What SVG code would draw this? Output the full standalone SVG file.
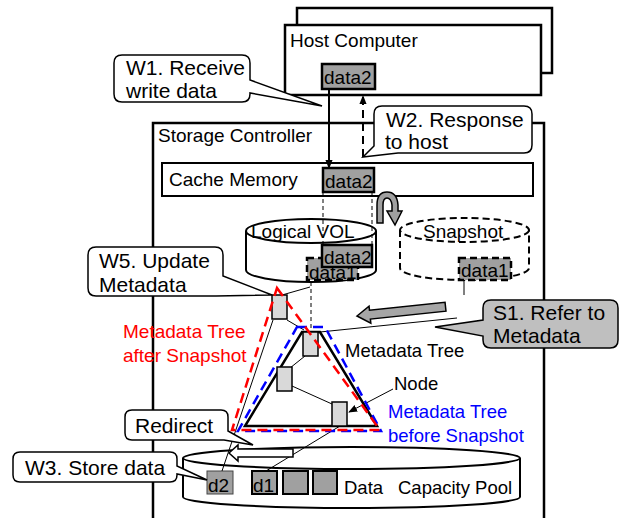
<svg xmlns="http://www.w3.org/2000/svg" width="619" height="518" viewBox="0 0 619 518">
<defs>
<style>
text{font-family:"Liberation Sans",Arial,sans-serif;fill:#000}
.t19{font-size:19px}
.t18{font-size:18.5px}
.t21{font-size:21px}
.box{fill:#fff;stroke:#000;stroke-width:2.5}
.call{fill:#fff;stroke:#000;stroke-width:1.5}
.dat{fill:#a0a0a0;stroke:#000;stroke-width:2.5}
.datd{fill:#a0a0a0;stroke:#000;stroke-width:2.5;stroke-dasharray:7 4}
.nd{fill:#d9d9d9;stroke:#000;stroke-width:1.5}
.thin{fill:none;stroke:#000;stroke-width:1}
.thind{fill:none;stroke:#000;stroke-width:1;stroke-dasharray:4 3}
.cyl{fill:#fff;stroke:#000;stroke-width:2}
.cyld{fill:#fff;stroke:#000;stroke-width:2;stroke-dasharray:7 4}
</style>
<clipPath id="d1clip"><rect x="307" y="267.5" width="51" height="14"/></clipPath>
<marker id="ah2" viewBox="0 0 10 10" refX="9" refY="5" markerWidth="9" markerHeight="9" orient="auto" markerUnits="userSpaceOnUse">
<path d="M0,1 L10,5 L0,9 z" fill="#000"/>
</marker>
</defs>

<g id="host">
<rect x="297" y="8" width="255" height="65" class="box"/>
<rect x="285" y="25" width="256" height="70" class="box"/>
<text x="290" y="47" class="t19">Host Computer</text>
<rect x="322" y="64" width="53" height="25" class="dat"/>
<text x="324" y="84" class="t19">data2</text>
</g>

<g id="storage-controller">
<rect x="153" y="123" width="391" height="410" fill="none" stroke="#000" stroke-width="2.5"/>
<text x="158" y="142" class="t19">Storage Controller</text>
</g>

<g id="cache-memory">
<rect x="162" y="163" width="371" height="33" fill="#fff" stroke="#000" stroke-width="2"/>
<text x="169" y="186" class="t19">Cache Memory</text>
<rect x="323" y="168" width="51" height="24" class="dat"/>
<text x="325" y="188" class="t19">data2</text>
</g>

<g id="logical-vol">
<path d="M246,231 V270 A65,12 0 0 0 376,270 V231" class="cyl"/>
<ellipse cx="311" cy="231" rx="65" ry="12" class="cyl"/>
<text x="251" y="238" class="t19">Logical VOL</text>
<rect x="307" y="258" width="51" height="22" class="datd"/>
<text x="309" y="279" class="t19" clip-path="url(#d1clip)">data1</text>
<rect x="322" y="245" width="50" height="22" class="dat"/>
<text x="324" y="264" class="t19">data2</text>
</g>

<g id="snapshot">
<path d="M400,230 V268 A64.5,12 0 0 0 529,268 V230" class="cyld"/>
<ellipse cx="464.5" cy="230" rx="64.5" ry="12" class="cyld"/>
<text x="423" y="238" class="t19">Snapshot</text>
<rect x="459" y="258" width="52" height="22" class="datd"/>
<text x="461" y="277" class="t19">data1</text>
</g>

<g id="capacity-pool">
<path d="M183,458 V497 A168.5,11 0 0 0 520,497 V458" class="cyl"/>
<ellipse cx="351.5" cy="458" rx="168.5" ry="11" class="cyl"/>
<rect x="207" y="471" width="26" height="23" fill="#a0a0a0" stroke="#444" stroke-width="1"/>
<text x="208" y="492" class="t19">d2</text>
<rect x="252" y="471" width="25" height="23" fill="#a0a0a0" stroke="#000" stroke-width="2"/>
<text x="253" y="492" class="t19">d1</text>
<rect x="283" y="471" width="25" height="23" fill="#a0a0a0" stroke="#000" stroke-width="2"/>
<rect x="313" y="471" width="24" height="23" fill="#a0a0a0" stroke="#000" stroke-width="2"/>
<text x="344" y="494" class="t18">Data</text>
<text x="398" y="494" class="t18">Capacity Pool</text>
</g>

<g id="connectors">
<line x1="329" y1="89" x2="329" y2="168" stroke="#000" stroke-width="2" marker-end="url(#ah2)"/>
<line x1="363" y1="157" x2="363" y2="96" stroke="#000" stroke-width="2" stroke-dasharray="8 5" marker-end="url(#ah2)"/>
<line x1="323" y1="192" x2="323" y2="245" class="thind"/>
<line x1="372" y1="192" x2="372" y2="245" class="thind"/>
<line x1="311" y1="282" x2="311" y2="330" class="thind"/>
<line x1="464" y1="280" x2="464" y2="295" class="thin"/>
<line x1="282" y1="295" x2="310" y2="287" class="thin"/>
<line x1="287" y1="320" x2="304" y2="330" class="thin"/>
<line x1="457" y1="318" x2="320" y2="332" class="thin"/>
<line x1="305" y1="356" x2="290" y2="368" class="thin"/>
<line x1="292" y1="386" x2="332" y2="404" class="thin"/>
<line x1="340" y1="426" x2="266" y2="471" class="thin"/>
<line x1="273" y1="320" x2="222" y2="471" class="thin"/>
<line x1="393" y1="389" x2="349" y2="412" stroke="#000" stroke-width="1" marker-end="url(#ah2)"/>
<path d="M377,223 L377,205 Q377,192 387,192 Q397,192 398,205 L398,211 L402,211 L395,225 L387,211 L392,211 L392,205 Q391,198 387,198 Q383,198 383,205 L383,223 Z" fill="#a0a0a0" stroke="#000" stroke-width="1.5"/>
<path d="M0,0 L13,-8.5 L13,-4.5 L89,-4.5 L89,4.5 L13,4.5 L13,8.5 Z" transform="translate(357,316) rotate(-6)" fill="#a6a6a6" stroke="#000" stroke-width="1.5"/>
<path d="M229,453 L238,445 L238,449 L293,449 L293,457 L238,457 L238,461 Z" fill="#fff" stroke="#000" stroke-width="1.5"/>
</g>

<g id="metadata-tree">
<polygon points="302,332 320,332 377,426 245,426" fill="none" stroke="#000" stroke-width="2.5"/>
<text x="345" y="357" class="t18">Metadata Tree</text>
</g>

<g id="nodes">
<rect x="272" y="295" width="15" height="24" class="nd"/>
<rect x="303" y="332" width="15" height="24" class="nd"/>
<rect x="277" y="367" width="15" height="24" class="nd"/>
<rect x="332" y="402" width="15" height="24" class="nd"/>
<text x="394" y="390" class="t18">Node</text>
</g>

<g id="tree-before-snapshot">
<polygon points="297,327 325,327 381,431 238,431" fill="none" stroke="#0000ff" stroke-width="2.5" stroke-dasharray="10 6"/>
<text x="388" y="418" class="t18" style="fill:#0000ff">Metadata Tree</text>
<text x="388" y="442" class="t18" style="fill:#0000ff">before Snapshot</text>
</g>

<g id="tree-after-snapshot">
<polygon points="277,288 380,430 232,430" fill="none" stroke="#ff0000" stroke-width="2.5" stroke-dasharray="10 6"/>
<text x="123" y="338" class="t19" style="fill:#ff0000">Metadata Tree</text>
<text x="123" y="362" class="t19" style="fill:#ff0000">after Snapshot</text>
</g>

<g id="w1">
<path d="M122,55 H242 Q250,55 250,63 V80 L322,106 L250,93 V94 Q250,102 242,102 H122 Q114,102 114,94 V63 Q114,55 122,55 Z" class="call"/>
<text x="126" y="75" class="t21">W1. Receive</text>
<text x="126" y="98" class="t21">write data</text>
</g>

<g id="w2">
<path d="M382,106 H524 Q532,106 532,114 V145 Q532,153 524,153 H398 L363,157 L374,146 V114 Q374,106 382,106 Z" class="call"/>
<text x="386" y="127" class="t21">W2. Response</text>
<text x="385" y="149" class="t21">to host</text>
</g>

<g id="w5">
<path d="M96,247 H215 Q223,247 223,255 V276 L272,295 L216,296 H96 Q88,296 88,288 V255 Q88,247 96,247 Z" class="call"/>
<text x="99" y="268" class="t21">W5. Update</text>
<text x="99" y="292" class="t21">Metadata</text>
</g>

<g id="s1">
<path d="M491,300 H610 Q618,300 618,308 V340 Q618,348 610,348 H491 Q483,348 483,340 V336 L435,327 L483,320 V308 Q483,300 491,300 Z" fill="#bfbfbf" stroke="#000" stroke-width="1.5"/>
<text x="493" y="320" class="t21">S1. Refer to</text>
<text x="493" y="343" class="t21">Metadata</text>
</g>

<g id="redirect">
<path d="M132,410 H221 Q228,410 228,417 V431 L253,445 L224,440 H132 Q125,440 125,433 V417 Q125,410 132,410 Z" class="call"/>
<text x="135" y="433" class="t21">Redirect</text>
</g>

<g id="w3">
<path d="M20,452 H170 Q177,452 177,459 V466 L207,480 L177,474 V475 Q177,482 170,482 H20 Q13,482 13,475 V459 Q13,452 20,452 Z" class="call"/>
<text x="25" y="475" class="t21">W3. Store data</text>
</g>
</svg>
